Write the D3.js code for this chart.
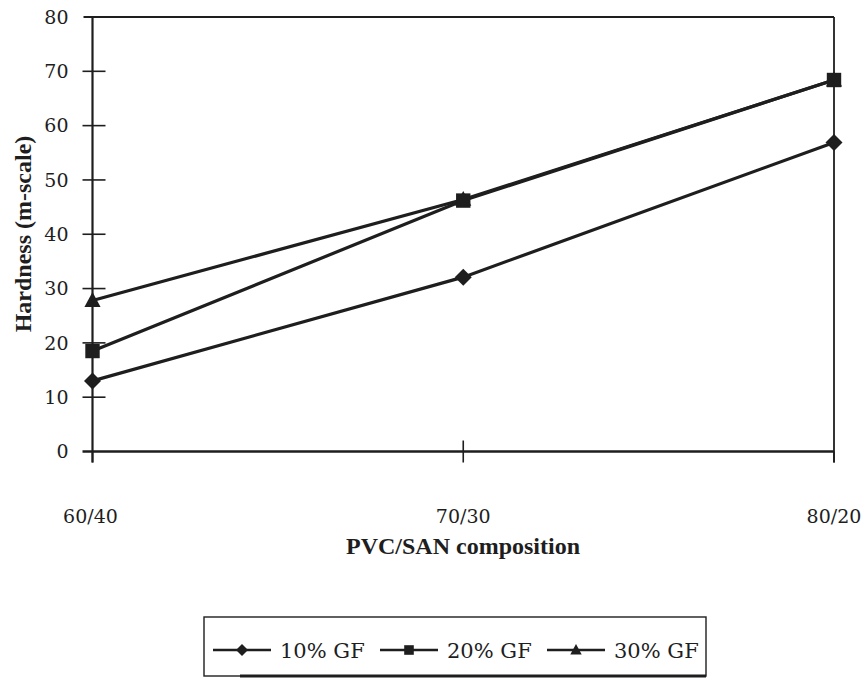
<!DOCTYPE html>
<html><head><meta charset="utf-8">
<script src="https://cdn.jsdelivr.net/npm/d3@7"></script>
<style>body{margin:0;background:#fff}svg{display:block}</style>
</head><body>
<svg id="chart" width="867" height="678"></svg>
<script>
const categories = ["60/40", "70/30", "80/20"];
const seriesNames = ["10% GF", "20% GF", "30% GF"];
const gf10 = [13.0, 32.1, 56.9];
const gf20 = [18.5, 46.2, 68.4];
const gf30 = [27.8, 46.4, 68.4];
const yTicks = [0, 10, 20, 30, 40, 50, 60, 70, 80];
const markerTypes = ["diamond", "square", "triangle"];

const series = [gf10, gf20, gf30];
const ink = "#1e1e1e";
const svg = d3.select("#chart");
const x = d3.scalePoint().domain(categories).range([92.5, 834]);
const y = d3.scaleLinear().domain([0, 80]).range([451.5, 17]);
const serif = "'DejaVu Serif', serif";
const titleFont = "'Liberation Serif', 'Times New Roman', serif";

function marker(sel, type, s) {
  if (type === "diamond") {
    sel.append("path").attr("d", `M0,${-s}L${s},0L0,${s}L${-s},0Z`);
  } else if (type === "square") {
    sel.append("rect").attr("x", -s*0.8).attr("y", -s*0.8).attr("width", s*1.6).attr("height", s*1.6);
  } else {
    sel.append("path").attr("d", `M0,${-s}L${s*0.95},${s*0.75}L${-s*0.95},${s*0.75}Z`);
  }
}

// frame
const g = svg.append("g").attr("stroke", ink).attr("fill", "none");
g.append("line").attr("x1", x.range()[0]).attr("x2", x.range()[0]).attr("y1", y(80)).attr("y2", y(0) + 11).attr("stroke-width", 2.2);
g.append("line").attr("x1", x.range()[1]).attr("x2", x.range()[1]).attr("y1", y(80)).attr("y2", y(0) + 11).attr("stroke-width", 1.8);
g.append("line").attr("x1", x.range()[0] - 9).attr("x2", x.range()[1]).attr("y1", y(80)).attr("y2", y(80)).attr("stroke-width", 2);
g.append("line").attr("x1", x.range()[0] - 10).attr("x2", x.range()[1]).attr("y1", y(0)).attr("y2", y(0)).attr("stroke-width", 2.4);

// y ticks
g.selectAll(".yt").data(yTicks.filter(d => d > 0 && d < 80)).enter().append("line")
  .attr("x1", x.range()[0] - 10).attr("x2", x.range()[0] + 13)
  .attr("y1", d => y(d)).attr("y2", d => y(d)).attr("stroke-width", 1.6);
// x ticks
g.selectAll(".xt").data(categories).enter().append("line")
  .attr("x1", d => x(d)).attr("x2", d => x(d))
  .attr("y1", (d, i) => i === 1 ? y(0) - 11 : y(0)).attr("y2", y(0) + 11).attr("stroke-width", 1.6);

// y tick labels
svg.append("g").selectAll("text").data(yTicks).enter().append("text")
  .attr("x", x.range()[0] - 24).attr("y", d => y(d)).attr("dy", "0.35em")
  .attr("text-anchor", "end").attr("font-family", serif).attr("font-size", 19).attr("fill", ink)
  .text(d => d);
// x tick labels
svg.append("g").selectAll("text").data(categories).enter().append("text")
  .attr("x", (d, i) => x(d) + (i === 0 ? -2 : 0)).attr("y", 523)
  .attr("text-anchor", "middle").attr("font-family", serif).attr("font-size", 19).attr("fill", ink)
  .text(d => d);

// axis titles
svg.append("text").attr("x", 463).attr("y", 554).attr("text-anchor", "middle")
  .attr("font-family", titleFont).attr("font-weight", "bold").attr("font-size", 24).attr("fill", ink)
  .text("PVC/SAN composition");
svg.append("text").attr("transform", "translate(31,234) rotate(-90)").attr("text-anchor", "middle")
  .attr("font-family", titleFont).attr("font-weight", "bold").attr("font-size", 24).attr("fill", ink)
  .text("Hardness (m-scale)");

// series
const line = d3.line().x((d, i) => x(categories[i])).y(d => y(d));
series.forEach((vals, si) => {
  svg.append("path").attr("d", line(vals)).attr("fill", "none").attr("stroke", ink).attr("stroke-width", 3.2);
});
series.forEach((vals, si) => {
  vals.forEach((v, i) => {
    const m = svg.append("g").attr("transform", `translate(${x(categories[i])},${y(v)})`).attr("fill", ink);
    marker(m, markerTypes[si], si === 1 ? 9 : 8.5);
  });
});

// legend
const lg = svg.append("g");
lg.append("rect").attr("x", 204).attr("y", 617).attr("width", 502).attr("height", 59)
  .attr("fill", "none").attr("stroke", ink).attr("stroke-width", 1.4);
lg.append("line").attr("x1", 240).attr("x2", 706).attr("y1", 676).attr("y2", 676).attr("stroke", ink).attr("stroke-width", 3);
seriesNames.forEach((name, i) => {
  const x0 = 213 + i * 167;
  const it = lg.append("g").attr("transform", `translate(${x0},650)`);
  it.append("line").attr("x1", 0).attr("x2", 58).attr("y1", 0).attr("y2", 0).attr("stroke", ink).attr("stroke-width", 2.5);
  const m = it.append("g").attr("transform", "translate(29,0)").attr("fill", ink);
  marker(m, markerTypes[i], 6);
  it.append("text").attr("x", 67).attr("y", 0).attr("dy", "0.36em")
    .attr("font-family", serif).attr("font-size", 21).attr("fill", ink).text(name);
});
</script>
</body></html>
